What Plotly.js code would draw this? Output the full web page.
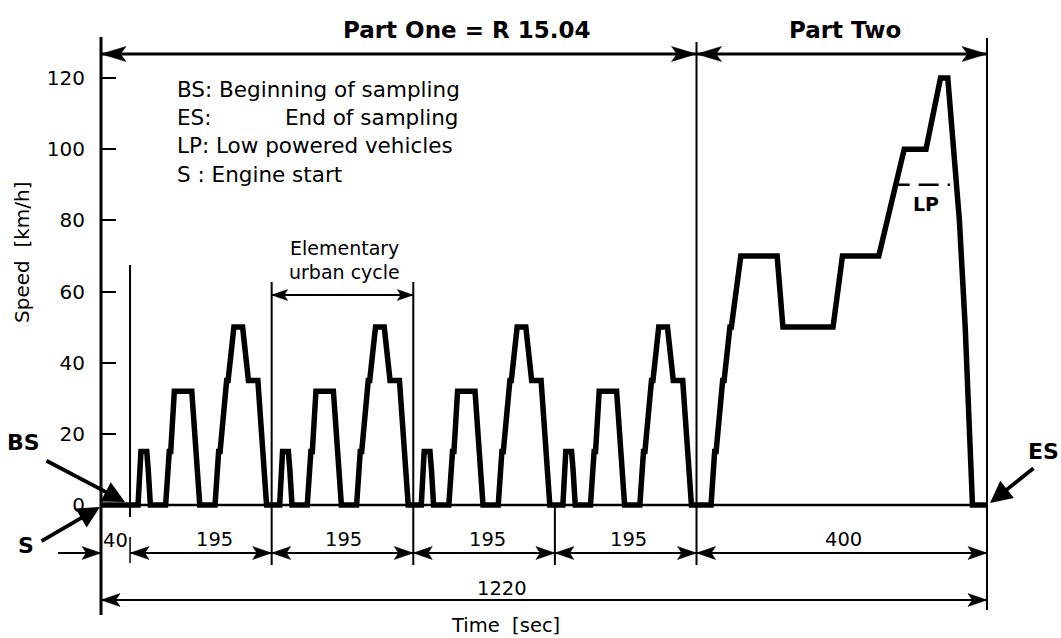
<!DOCTYPE html>
<html><head><meta charset="utf-8">
<script src="https://cdn.plot.ly/plotly-3.0.1.min.js"></script>
<style>html,body{margin:0;padding:0;background:#fff;} #chart{width:1061px;height:638px;}</style>
</head><body><div id="chart"></div>
<script>
// ---------------- data ----------------
const cycleStarts = [40, 235, 430, 625];           // start of each elementary urban cycle [s]
const eceTime  = [0,11,15,23,25,28,49,54,56,61,85,93,96,117,122,124,133,135,143,155,163,176,188,195];
const eceSpeed = [0,0,15,15,10,0,0,15,15,32,32,10,0,0,15,15,35,35,50,50,35,35,0,0];
const eudcStart = 820;
const eudcTime  = [0,20,25,27,36,38,46,48,61,111,119,188,201,251,286,316,336,346,362,370,380,400];
const eudcSpeed = [0,0,15,15,35,35,50,50,70,70,50,50,70,70,100,100,120,120,80,50,0,0];
const totalTime = 1220;
const lpSpeed = 90;
const lpTime = [1097, 1169];
const yTicks = [0,20,40,60,80,100,120];
const segBounds = [40,235,430,625,820,1220];
const segLabels = ['195','195','195','195','400'];
const warmLabel = '40';
const totalLabel = '1220';

// ---------------- build series ----------------
const tAll = [0], vAll = [0];
cycleStarts.forEach(s => eceTime.forEach((t,i) => { tAll.push(s+t); vAll.push(eceSpeed[i]); }));
eudcTime.forEach((t,i) => { tAll.push(eudcStart+t); vAll.push(eudcSpeed[i]); });

// ---------------- pixel <-> data helpers (layout only) ----------------
const W = 1061, H = 638;
const PX_T0 = 101, PX_T1 = 987, PX_V0 = 505, PX_V120 = 78;
const kx = (PX_T1-PX_T0)/totalTime, ky = (PX_V0-PX_V120)/120;
const T = px => (px-PX_T0)/kx;
const V = py => (PX_V0-py)/ky;
const FONT = 'DejaVu Sans';

const shapes = [];
function line(t0,v0,t1,v1,w,dash){
  shapes.push({type:'line',xref:'x',yref:'y',x0:t0,y0:v0,x1:t1,y1:v1,line:{color:'#000',width:w,dash:dash||'solid'}});
}
function head(t,v,dir,L,Wd){
  const bt=t-dir*L/kx, nt=t-dir*0.78*L/kx, w=Wd/ky;
  shapes.push({type:'path',xref:'x',yref:'y',path:`M${t},${v} L${bt},${v+w} L${nt},${v} L${bt},${v-w} Z`,fillcolor:'#000',line:{color:'#000',width:0.5}});
}
const ann = [];
function txt(px,py,text,size,xanchor){
  ann.push({xref:'x',yref:'y',x:T(px),y:V(py),text:text,showarrow:false,xanchor:xanchor||'center',yanchor:'middle',
    font:{family:FONT,size:size,color:'#000'}});
}
function diag(tx,ty,hx,hy){
  ann.push({xref:'x',yref:'y',x:T(hx),y:V(hy),axref:'x',ayref:'y',ax:T(tx),ay:V(ty),text:'',showarrow:true,
    arrowhead:2,arrowsize:1.15,arrowwidth:3.8,arrowcolor:'#000',standoff:0});
}

// frame / vertical lines
line(0,V(37),0,V(615),3);
line(totalTime,V(38),totalTime,V(610),2);
line(eudcStart,V(42),eudcStart,V(565),2);
line(cycleStarts[0],V(265),cycleStarts[0],V(517),2);
line(cycleStarts[0],V(537),cycleStarts[0],V(563),1.5);
line(cycleStarts[1],V(282),cycleStarts[1],V(565),2);
line(cycleStarts[2],V(282),cycleStarts[2],V(565),2);
line(cycleStarts[3],0,cycleStarts[3],V(565),2);
line(0,0,totalTime,0,2.5);

// top arrows (Part One / Part Two)
const vTop = V(54);
line(0,vTop,totalTime,vTop,2.8);
head(0,vTop,-1,25,7.5); head(eudcStart,vTop,1,25,7.5);
head(eudcStart,vTop,-1,25,7.5); head(totalTime,vTop,1,25,7.5);

// dimension row 1
const vR1 = V(553);
line(T(58),vR1,0,vR1,2.2);
head(0,vR1,1,19,6.5);
line(segBounds[0],vR1,totalTime,vR1,2.2);
for(let i=0;i<segBounds.length-1;i++){ head(segBounds[i],vR1,-1,19,6.5); head(segBounds[i+1],vR1,1,19,6.5); }

// dimension row 2
const vR2 = V(600);
line(0,vR2,totalTime,vR2,2.2);
head(0,vR2,-1,19,6.5); head(totalTime,vR2,1,19,6.5);

// elementary urban cycle arrow
const vE = V(295);
line(cycleStarts[1],vE,cycleStarts[2],vE,2);
head(cycleStarts[1],vE,-1,16,5.5); head(cycleStarts[2],vE,1,16,5.5);

// LP dashed line
shapes.push({type:'line',xref:'x',yref:'y',x0:lpTime[0],y0:lpSpeed,x1:lpTime[1],y1:lpSpeed,line:{color:'#000',width:2.5,dash:'12px,9px,20px,9px'}});

// texts
txt(466,30,'<b>Part One = R 15.04</b>',23);
txt(845,30,'<b>Part Two</b>',23);
txt(175,89,'BS: Beginning of sampling',21.5,'left');
txt(175,117,'ES:',21.5,'left');
txt(460,117,'End of sampling',21.5,'right');
txt(175,145,'LP: Low powered vehicles',21.5,'left');
txt(175,174,'S : Engine start',21.5,'left');
txt(344,248,'Elementary',19);
txt(344,272,'urban cycle',19);
txt(926,204,'<b>LP</b>',19);
txt(23,442,'<b>BS</b>',22);
txt(26,545,'<b>S</b>',22);
txt(1043,451,'<b>ES</b>',22);
txt(115,540,warmLabel,19.5);
const segLabelPx = [214,343,487,628,843];
segLabels.forEach((s,i)=>txt(segLabelPx[i],539,s,19.5));
txt(502,588,totalLabel,19.5);
txt(505,625,'Time  [sec]',19.5);
ann.push({xref:'x',yref:'y',x:T(22),y:V(252),text:'Speed  [km/h]',showarrow:false,textangle:-90,
  font:{family:FONT,size:20,color:'#000'},xanchor:'center',yanchor:'middle'});

// arrows BS, S, ES
diag(45,460,125,502);
diag(40,542,100,507);
diag(1035,467,990,503);

const trace = {x:tAll,y:vAll,mode:'lines',line:{color:'#000',width:5.5},hoverinfo:'skip'};

const layout = {
  width:W,height:H,margin:{l:0,r:0,t:0,b:0},paper_bgcolor:'#fff',plot_bgcolor:'#fff',showlegend:false,
  xaxis:{range:[T(0),T(W)],visible:false,fixedrange:true},
  yaxis:{range:[V(H),V(0)],anchor:'free',position:PX_T0/W,side:'left',showgrid:false,zeroline:false,showline:false,
    ticks:'inside',ticklen:14,tickwidth:2,tickcolor:'#000',tickvals:yTicks,ticktext:yTicks.map(String),
    tickfont:{family:FONT,size:20,color:'#000'},ticklabelstandoff:16,fixedrange:true},
  shapes:shapes,annotations:ann
};
Plotly.newPlot('chart',[trace],layout,{staticPlot:true,displayModeBar:false});
</script></body></html>
